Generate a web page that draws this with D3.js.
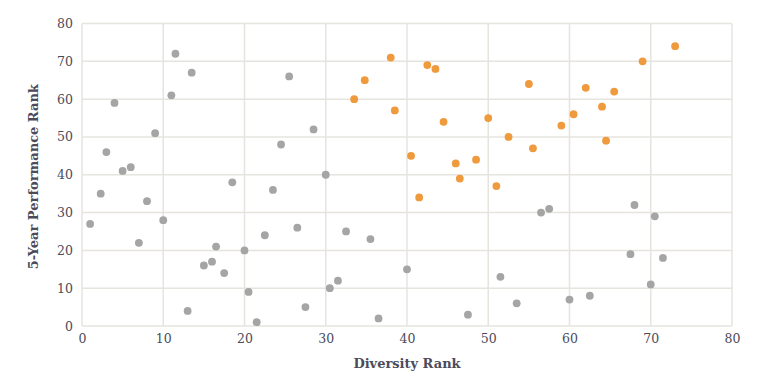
<!DOCTYPE html>
<html>
<head>
<meta charset="utf-8">
<script src="https://cdn.jsdelivr.net/npm/d3@7"></script>
<style>
  body { margin: 0; background: #fff; }
  text { font-family: "DejaVu Serif", "Liberation Serif", serif; fill: #4b4b5a; }
</style>
</head>
<body>
<svg id="chart" width="759" height="383"></svg>
<script>
"use strict";

// gray points: [diversity rank, 5-year performance rank]
var grayX = [1, 2.3, 3, 4, 5, 6, 8, 7, 9, 10, 11, 11.5, 13.5, 13, 15, 16, 16.5, 17.5, 18.5, 20,
             20.5, 21.5, 22.5, 23.5, 24.5, 25.5, 26.5, 27.5, 28.5, 30, 30.5, 31.5, 32.5, 35.5, 36.5, 40,
             47.5, 51.5, 53.5, 56.5, 57.5, 60, 62.5, 67.5, 68, 70, 70.5, 71.5];
var grayY = [27, 35, 46, 59, 41, 42, 33, 22, 51, 28, 61, 72, 67, 4, 16, 17, 21, 14, 38, 20,
             9, 1, 24, 36, 48, 66, 26, 5, 52, 40, 10, 12, 25, 23, 2, 15,
             3, 13, 6, 30, 31, 7, 8, 19, 32, 11, 29, 18];

// orange (highlighted) points
var orangeX = [33.5, 34.8, 38, 38.5, 40.5, 41.5, 42.5, 43.5, 44.5, 46, 46.5, 48.5, 50, 51, 52.5,
               55, 55.5, 59, 60.5, 62, 64, 64.5, 65.5, 69, 73];
var orangeY = [60, 65, 71, 57, 45, 34, 69, 68, 54, 43, 39, 44, 55, 37, 50,
               64, 47, 53, 56, 63, 58, 49, 62, 70, 74];

var xTicks = [0, 10, 20, 30, 40, 50, 60, 70, 80];
var yTicks = [0, 10, 20, 30, 40, 50, 60, 70, 80];

var xTitle = "Diversity Rank";
var yTitle = "5-Year Performance Rank";

var svg = d3.select("#chart");

var x = d3.scaleLinear().domain([0, 80]).range([82, 732]);
var y = d3.scaleLinear().domain([0, 80]).range([326, 23.5]);

var gridColor = "#e6e4df";

// grid
var grid = svg.append("g").attr("class", "grid");
grid.selectAll(".vline")
    .data(xTicks)
    .enter()
    .append("line")
    .attr("x1", function (d) { return x(d); })
    .attr("x2", function (d) { return x(d); })
    .attr("y1", y(0))
    .attr("y2", y(80))
    .attr("stroke", gridColor)
    .attr("stroke-width", 1.5);
grid.selectAll(".hline")
    .data(yTicks)
    .enter()
    .append("line")
    .attr("x1", x(0))
    .attr("x2", x(80))
    .attr("y1", function (d) { return y(d); })
    .attr("y2", function (d) { return y(d); })
    .attr("stroke", gridColor)
    .attr("stroke-width", 1.5);

// axes (labels only)
var xAxis = svg.append("g")
    .attr("transform", "translate(0," + y(0) + ")")
    .call(d3.axisBottom(x).tickValues(xTicks).tickSize(0).tickPadding(8));
var yAxis = svg.append("g")
    .attr("transform", "translate(" + x(0) + ",0)")
    .call(d3.axisLeft(y).tickValues(yTicks).tickSize(0).tickPadding(9));
[xAxis, yAxis].forEach(function (a) {
    a.select(".domain").remove();
    a.selectAll("text")
        .attr("font-family", "DejaVu Serif")
        .attr("font-size", 12.5)
        .attr("fill", "#4b4b5a");
});

// points
function drawPoints(xs, ys, color) {
    svg.append("g")
        .selectAll("circle")
        .data(xs)
        .enter()
        .append("circle")
        .attr("cx", function (d) { return x(d); })
        .attr("cy", function (d, i) { return y(ys[i]); })
        .attr("r", 3.9)
        .attr("fill", color);
}
drawPoints(grayX, grayY, "#a5a5a5");
drawPoints(orangeX, orangeY, "#ef9a3d");

// titles
svg.append("text")
    .attr("x", (x(0) + x(80)) / 2)
    .attr("y", 368)
    .attr("text-anchor", "middle")
    .attr("font-size", 13)
    .attr("font-weight", "bold")
    .text(xTitle);

svg.append("text")
    .attr("transform", "translate(38," + (y(40) + 2) + ") rotate(-90)")
    .attr("text-anchor", "middle")
    .attr("font-size", 13)
    .attr("font-weight", "bold")
    .text(yTitle);
</script>
</body>
</html>
